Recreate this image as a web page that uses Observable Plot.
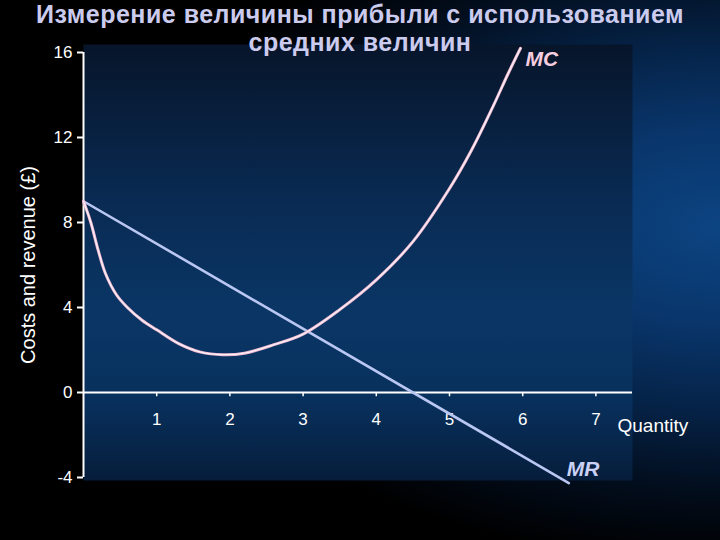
<!DOCTYPE html>
<html>
<head>
<meta charset="utf-8">
<script src="https://cdn.jsdelivr.net/npm/d3@7"></script>
<script src="https://cdn.jsdelivr.net/npm/@observablehq/plot@0.6"></script>
<style>
  html, body { margin: 0; padding: 0; background: #000; }
  #slide {
    position: relative; width: 720px; height: 540px; overflow: hidden;
    background:
      radial-gradient(ellipse 80% 62% at 100% 42%, #0c4482 0%, #09356a 30%, #052246 55%, #020c1a 80%, #000 100%);
    font-family: "Liberation Sans", Arial, sans-serif;
  }
  #chart { position: absolute; left: 0; top: 0; }
  .title {
    position: absolute; left: 0; width: 720px; text-align: center; white-space: nowrap;
    color: #cbcbee; font-weight: bold; font-size: 25px; line-height: 28px;
    letter-spacing: 0.5px; z-index: 2;
  }
  #title1 { top: 0px; }
  #title2 { top: 28px; }
</style>
</head>
<body>
<div id="slide">
  <div id="chart"></div>
  <div class="title" id="title1">Измерение величины прибыли с использованием</div>
  <div class="title" id="title2">средних величин</div>
</div>
<script>
// ---- data ----
const xTicks = [1, 2, 3, 4, 5, 6, 7];
const yTicks = [16, 12, 8, 4, 0, -4];
const mcQ = [0, 0.1, 0.2, 0.3, 0.45, 0.6, 0.8, 1.0, 1.3, 1.6, 1.9, 2.2, 2.6, 3.0, 3.5, 4.0, 4.5, 5.0, 5.3, 5.6, 5.8, 5.97];
const mcV = [9, 8.0, 6.7, 5.6, 4.6, 4.0, 3.4, 2.95, 2.3, 1.9, 1.78, 1.85, 2.25, 2.75, 3.9, 5.3, 7.1, 9.6, 11.4, 13.5, 15, 16.2];
const mrQ = [0, 6.63];
const mrV = [9, -4.26];
const seriesNames = ["MC", "MR"];
const xLabel = "Quantity";
const yLabel = "Costs and revenue (£)";

const mc = mcQ.map((q, i) => ({q, v: mcV[i]}));
const mr = mrQ.map((q, i) => ({q, v: mrV[i]}));

const font = "\"Liberation Sans\", Arial, sans-serif";

const chart = Plot.plot({
  width: 720,
  height: 540,
  marginTop: 52,
  marginBottom: 63,
  marginLeft: 83,
  marginRight: 88,
  x: {domain: [0, 7.5], axis: null},
  y: {domain: [-4, 16], axis: null},
  style: {background: "transparent", color: "white", fontFamily: font, overflow: "visible"},
  marks: [
    Plot.frame({fill: "url(#plotBg)", stroke: "none", insetTop: -8, insetBottom: -3}),
    Plot.axisY({ticks: yTicks, tickSize: 6, tickPadding: 5, tickFormat: d => String(d),
      fontSize: 17, stroke: "white", strokeWidth: 2, fill: "white", label: null}),
    Plot.ruleX([0], {stroke: "white", strokeWidth: 2}),
    Plot.ruleY([0], {stroke: "white", strokeWidth: 2}),
    Plot.ruleX(xTicks, {x: d => d, y1: 0, y2: -0.2, stroke: "white", strokeWidth: 1.5}),
    Plot.text(xTicks, {x: d => d, y: 0, dy: 27, text: d => String(d), fill: "white", fontSize: 17}),
    Plot.text([yLabel], {frameAnchor: "left", rotate: -90, dx: -55, textAnchor: "middle",
      fill: "white", fontSize: 20}),
    Plot.text([xLabel], {frameAnchor: "bottom-right", dx: -15, dy: -46, textAnchor: "start", fill: "white", fontSize: 19}),
    Plot.line(mr, {x: "q", y: "v", stroke: "#b9c7f2", strokeWidth: 2.6}),
    Plot.line(mc, {x: "q", y: "v", curve: "catmull-rom", stroke: "#eab6cf", strokeWidth: 3}),
    Plot.line(mc, {x: "q", y: "v", curve: "catmull-rom", stroke: "#fdf0f6", strokeWidth: 1.3}),
    Plot.text([mc[mc.length - 1]], {x: "q", y: "v", text: () => seriesNames[0], dx: 5, dy: 11,
      textAnchor: "start", fill: "#f7cde0", fontSize: 21, fontWeight: "bold", fontStyle: "italic"}),
    Plot.text([mr[mr.length - 1]], {x: "q", y: "v", text: () => seriesNames[1], dx: -2, dy: -14,
      textAnchor: "start", fill: "#cbd1f4", fontSize: 21, fontWeight: "bold", fontStyle: "italic"})
  ]
});

d3.select(chart).insert("defs", ":first-child").html(`
  <linearGradient id="plotBg" x1="0" y1="0" x2="0" y2="1">
    <stop offset="0" stop-color="#07152a"/>
    <stop offset="0.35" stop-color="#092a52"/>
    <stop offset="0.62" stop-color="#0a3666"/>
    <stop offset="0.82" stop-color="#08305c"/>
    <stop offset="1" stop-color="#061d3b"/>
  </linearGradient>`);

document.getElementById("chart").appendChild(chart);
</script>
</body>
</html>
